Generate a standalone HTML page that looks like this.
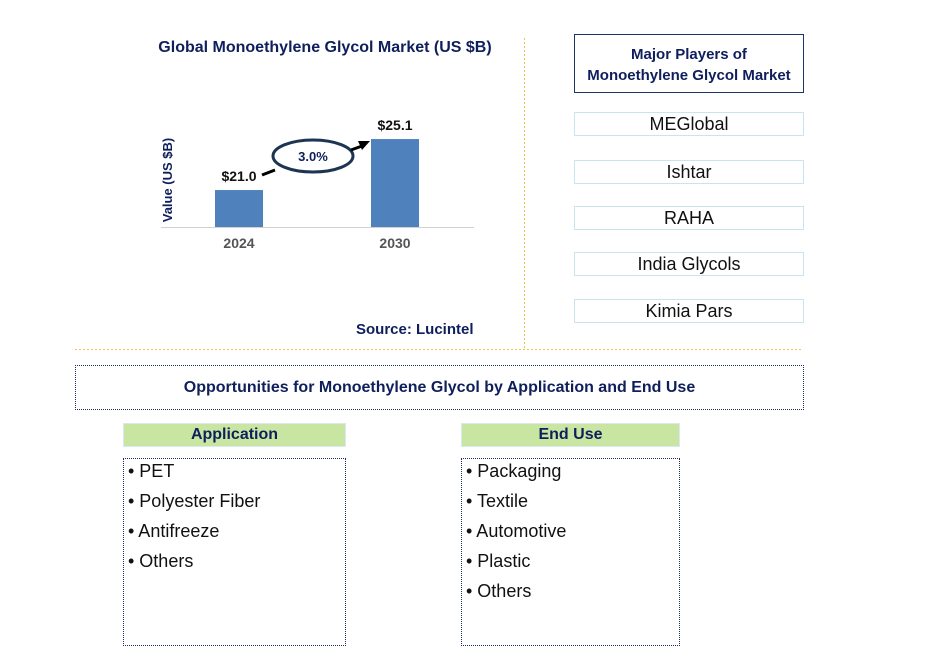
<!DOCTYPE html>
<html><head><meta charset="utf-8"><style>
body{margin:0;width:932px;height:666px;background:#fff;font-family:"Liberation Sans",sans-serif;position:relative;overflow:hidden}
.a{position:absolute;box-sizing:border-box}
.pl{border:1px solid #c9e3f0;text-align:center;font-size:18px;color:#111;line-height:22px}
.hd{background:#c8e6a2;border:1px solid #dbe8f4;text-align:center;font-weight:bold;font-size:16px;color:#0f1f5c;line-height:21px}
.ls{border:1px dotted #1a2a5a;font-size:18px;color:#111;padding:0 0 0 4px;line-height:30px}
.ls div{margin-top:-3px}
</style></head><body>
<svg class="a" style="left:0;top:0" width="932" height="666">
<text x="325" y="52" text-anchor="middle" font-size="16" font-weight="bold" fill="#0f1f5c">Global Monoethylene Glycol Market (US $B)</text>
<text transform="translate(172,180) rotate(-90)" text-anchor="middle" font-size="13" font-weight="bold" fill="#0f1f5c">Value (US $B)</text>
<line x1="161" y1="227.5" x2="474" y2="227.5" stroke="#d0d0d0"/>
<g id="bars"></g>
<ellipse cx="313" cy="156" rx="40" ry="16" fill="none" stroke="#1d3552" stroke-width="3"/>
<text x="313" y="161" text-anchor="middle" font-size="13" font-weight="bold" fill="#0f1f5c">3.0%</text>
<line x1="262" y1="175" x2="275" y2="170" stroke="#000" stroke-width="3"/>
<line x1="351" y1="150" x2="362" y2="146" stroke="#000" stroke-width="3"/>
<polygon points="370,141 358,141 362,150" fill="#000"/>
<text x="356" y="334" font-size="15" font-weight="bold" fill="#0f1f5c">Source: Lucintel</text>
<line x1="524.5" y1="38" x2="524.5" y2="348" stroke="#f2c14a" stroke-dasharray="2,2"/>
<line x1="75" y1="349.5" x2="803" y2="349.5" stroke="#f2c14a" stroke-dasharray="2,2"/>
</svg>
<script>
const categories=["2024","2030"];
const values=[21.0,25.1];
const labels=["$21.0","$25.1"];
const ns="http://www.w3.org/2000/svg";
const base=227,yMin=18.03,pxPer=12.44;
function y(v){return base-(v-yMin)*pxPer;}
function x(i){return 215+i*156;}
const g=document.getElementById("bars");
values.forEach((v,i)=>{
 const r=document.createElementNS(ns,"rect");
 r.setAttribute("x",x(i));r.setAttribute("y",y(v));r.setAttribute("width",48);r.setAttribute("height",base-y(v));r.setAttribute("fill","#4f81bd");
 
 
 g.appendChild(r);
 const t=document.createElementNS(ns,"text");
 t.setAttribute("x",x(i)+24);t.setAttribute("y",y(v)-9);t.setAttribute("text-anchor","middle");t.setAttribute("font-size","14");t.setAttribute("font-weight","bold");t.setAttribute("fill","#111");
 t.textContent=labels[i];
 
 
 g.appendChild(t);
 const c=document.createElementNS(ns,"text");
 c.setAttribute("x",x(i)+24);c.setAttribute("y",248);c.setAttribute("text-anchor","middle");c.setAttribute("font-size","14");c.setAttribute("font-weight","bold");c.setAttribute("fill","#555");
 c.textContent=categories[i];
 
 
 g.appendChild(c);
});
</script>
<div class="a" style="left:574px;top:34px;width:230px;height:59px;border:1px solid #1d3566;text-align:center;font-weight:bold;font-size:15px;color:#0f1f5c;padding-top:9px;line-height:21px">Major Players of<br>Monoethylene Glycol Market</div>
<div class="a pl" style="left:574px;top:112px;width:230px;height:24px">MEGlobal</div>
<div class="a pl" style="left:574px;top:160px;width:230px;height:24px">Ishtar</div>
<div class="a pl" style="left:574px;top:206px;width:230px;height:24px">RAHA</div>
<div class="a pl" style="left:574px;top:252px;width:230px;height:24px">India Glycols</div>
<div class="a pl" style="left:574px;top:299px;width:230px;height:24px">Kimia Pars</div>
<div class="a" style="left:75px;top:365px;width:729px;height:45px;border:1px dotted #1a2a5a;text-align:center;font-weight:bold;font-size:16px;color:#0f1f5c;line-height:43px">Opportunities for Monoethylene Glycol by Application and End Use</div>
<div class="a hd" style="left:123px;top:423px;width:223px;height:24px">Application</div>
<div class="a ls" style="left:123px;top:458px;width:223px;height:188px"><div>• PET<br>• Polyester Fiber<br>• Antifreeze<br>• Others</div></div>
<div class="a hd" style="left:461px;top:423px;width:219px;height:24px">End Use</div>
<div class="a ls" style="left:461px;top:458px;width:219px;height:188px"><div>• Packaging<br>• Textile<br>• Automotive<br>• Plastic<br>• Others</div></div>
</body></html>
